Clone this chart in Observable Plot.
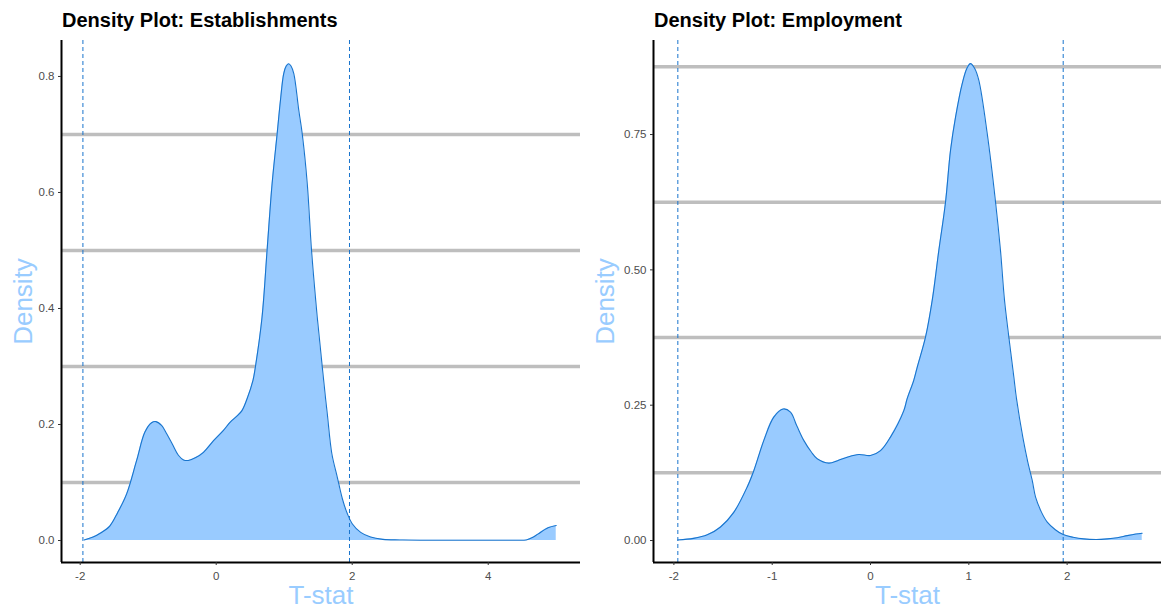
<!DOCTYPE html>
<html>
<head>
<meta charset="utf-8">
<script src="https://cdn.jsdelivr.net/npm/d3@7"></script>
<script src="https://cdn.jsdelivr.net/npm/@observablehq/plot@0.6"></script>
<style>
  html, body { margin: 0; padding: 0; background: #fff; }
  #wrap { display: flex; width: 1161px; height: 609px; overflow: hidden; font-family: "Liberation Sans", Arial, sans-serif; }
  .panel { display: flex; flex-direction: column; }
  .title { height: 28px; padding-top: 10px; font-size: 20px; line-height: 1; font-weight: bold; color: #000; white-space: nowrap; }
</style>
</head>
<body>
<div id="wrap">
  <div class="panel" id="left"><div class="title" style="padding-left:62px">Density Plot: Establishments</div></div>
  <div class="panel" id="right"><div class="title" style="padding-left:74px">Density Plot: Employment</div></div>
</div>
<script>
// ---- Establishments density (T-stat, density) ----
const estT = [-1.94, -1.81, -1.70, -1.565, -1.45, -1.318, -1.17, -1.048, -0.95, -0.886, -0.80, -0.728, -0.64, -0.556, -0.48, -0.409, -0.30, -0.187, -0.039, 0.10, 0.207, 0.30, 0.379, 0.453, 0.541, 0.576, 0.674, 0.748, 0.822, 0.896, 0.945, 0.993, 1.03, 1.067, 1.10, 1.141, 1.215, 1.265, 1.339, 1.402, 1.486, 1.560, 1.609, 1.634, 1.70, 1.781, 1.855, 1.929, 2.0, 2.125, 2.27, 2.45, 2.7, 3.0, 3.5, 4.0, 4.4, 4.56, 4.65, 4.73, 4.88, 5.0];
const estDensity = [0.001, 0.006, 0.013, 0.025, 0.048, 0.080, 0.138, 0.187, 0.203, 0.205, 0.198, 0.184, 0.165, 0.147, 0.139, 0.138, 0.143, 0.152, 0.172, 0.189, 0.204, 0.214, 0.224, 0.244, 0.276, 0.299, 0.385, 0.5, 0.615, 0.701, 0.759, 0.805, 0.818, 0.822, 0.818, 0.805, 0.741, 0.701, 0.615, 0.5, 0.385, 0.299, 0.244, 0.218, 0.15, 0.109, 0.072, 0.046, 0.029, 0.014, 0.006, 0.002, 0.001, 0.0005, 0.0005, 0.0005, 0.0005, 0.001, 0.005, 0.011, 0.022, 0.026];
const estYTicks = [0, 0.2, 0.4, 0.6, 0.8];
const estXTicks = [-2, 0, 2, 4];
const estGrid = [0.1, 0.3, 0.5, 0.7];

// ---- Employment density ----
const empT = [-1.96, -1.80, -1.66, -1.526, -1.391, -1.254, -1.187, -1.085, -0.984, -0.888, -0.814, -0.75, -0.679, -0.60, -0.542, -0.424, -0.33, -0.237, -0.119, 0, 0.102, 0.203, 0.339, 0.373, 0.44, 0.475, 0.56, 0.628, 0.695, 0.763, 0.814, 0.865, 0.933, 0.98, 1.017, 1.06, 1.102, 1.187, 1.272, 1.322, 1.363, 1.407, 1.458, 1.485, 1.55, 1.60, 1.645, 1.679, 1.74, 1.798, 1.88, 1.96, 2.06, 2.17, 2.30, 2.408, 2.51, 2.611, 2.70, 2.764];
const empDensity = [0.001, 0.004, 0.0105, 0.025, 0.052, 0.099, 0.129, 0.185, 0.228, 0.243, 0.237, 0.212, 0.185, 0.163, 0.151, 0.143, 0.148, 0.154, 0.159, 0.157, 0.166, 0.191, 0.24, 0.262, 0.296, 0.32, 0.376, 0.444, 0.536, 0.625, 0.721, 0.782, 0.844, 0.872, 0.881, 0.872, 0.85, 0.752, 0.625, 0.536, 0.444, 0.376, 0.302, 0.262, 0.19, 0.145, 0.111, 0.08, 0.052, 0.034, 0.02, 0.011, 0.006, 0.003, 0.002, 0.003, 0.005, 0.009, 0.012, 0.0135];
const empYTicks = [0, 0.25, 0.5, 0.75];
const empXTicks = [-2, -1, 0, 1, 2];
const empGrid = [0.125, 0.375, 0.625, 0.875];

const critical = [-1.96, 1.96];

const FILL = "#99CBFF", LINE = "#1874CD", LABEL = "#99CCFF";

function panel({t, d, xTicks, yTicks, grid, xDomain, yDomain, width, marginLeft, yFmt, densityDx}) {
  const data = t.map((v, i) => ({t: v, d: d[i]}));
  return Plot.plot({
    width, height: 571,
    marginLeft, marginRight: 0, marginTop: 2, marginBottom: 47,
    style: {fontFamily: "'Liberation Sans', Arial, sans-serif", background: "#fff", overflow: "visible"},
    x: {domain: xDomain},
    y: {domain: yDomain},
    marks: [
      Plot.ruleY(grid, {stroke: "#BEBEBE", strokeWidth: 3.5}),
      Plot.areaY(data, {x: "t", y: "d", fill: FILL, curve: "catmull-rom"}),
      Plot.lineY(data, {x: "t", y: "d", stroke: LINE, strokeWidth: 1.1, curve: "catmull-rom"}),
      Plot.ruleX(critical, {stroke: "#1874CD", strokeWidth: 1, strokeDasharray: "4,3"}),
      Plot.ruleX([xDomain[0]], {stroke: "#000", strokeWidth: 2}),
      Plot.ruleY([yDomain[0]], {stroke: "#000", strokeWidth: 2}),
      Plot.axisX({ticks: xTicks, tickFormat: v => String(v), tickSize: 3, tickPadding: 6, fontSize: 11.5, stroke: "#333", color: "#4D4D4D", label: null}),
      Plot.axisY({ticks: yTicks, tickFormat: yFmt, tickSize: 3, tickPadding: 4, fontSize: 11.5, stroke: "#333", color: "#4D4D4D", label: null}),
      Plot.text(["T-stat"], {frameAnchor: "bottom", textAnchor: "middle", lineAnchor: "middle", dy: 33, fontSize: 26, fill: LABEL}),
      Plot.text(["Density"], {frameAnchor: "left", textAnchor: "middle", lineAnchor: "middle", dx: densityDx, rotate: -90, fontSize: 26, fill: LABEL})
    ]
  });
}

document.getElementById("left").appendChild(panel({
  t: estT, d: estDensity, xTicks: estXTicks, yTicks: estYTicks, grid: estGrid,
  xDomain: [-2.275, 5.357], yDomain: [-0.0379, 0.862], width: 580, marginLeft: 61,
  yFmt: v => v.toFixed(1), densityDx: -37.5
}));
document.getElementById("right").appendChild(panel({
  t: empT, d: empDensity, xTicks: empXTicks, yTicks: empYTicks, grid: empGrid,
  xDomain: [-2.2075, 2.96], yDomain: [-0.0406, 0.9237], width: 581, marginLeft: 73,
  yFmt: v => v.toFixed(2), densityDx: -47.5
}));
</script>
</body>
</html>
